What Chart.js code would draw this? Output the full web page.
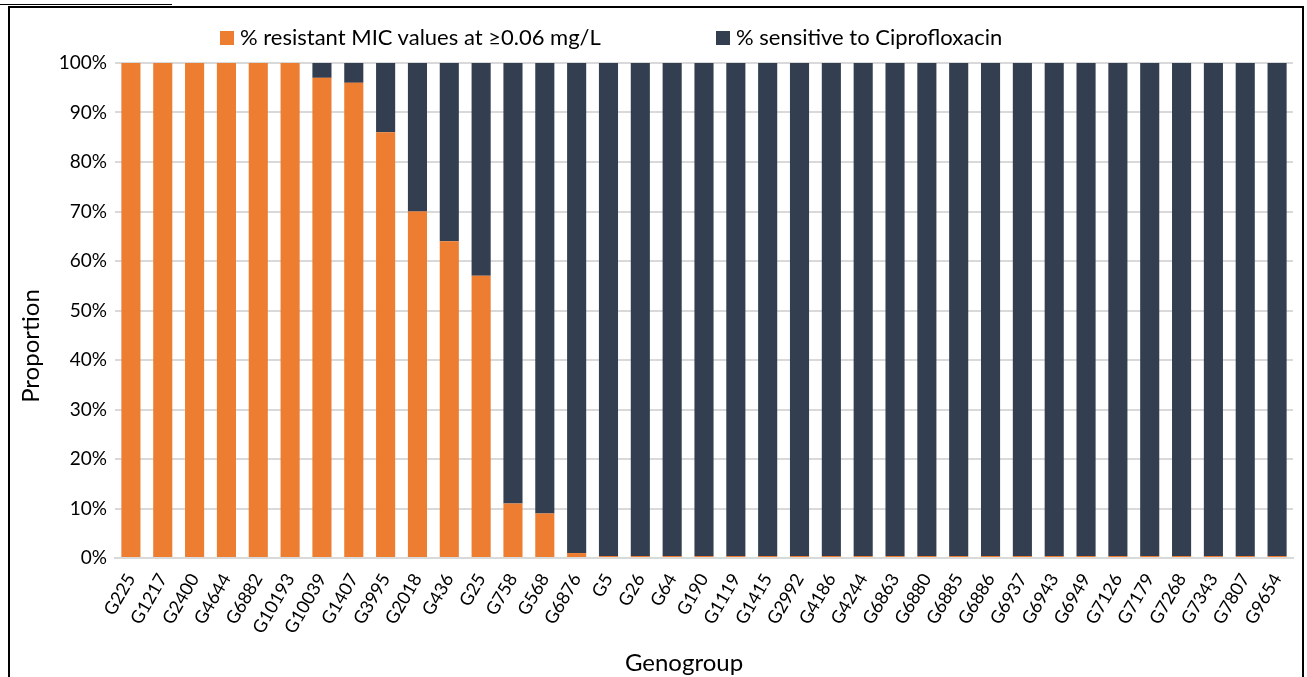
<!DOCTYPE html>
<html>
<head>
<meta charset="utf-8">
<script src="https://cdn.jsdelivr.net/npm/chart.js@4.4.1/dist/chart.umd.min.js"></script>
<style>
  body { margin: 0; background: #fff; }
  #wrap { position: relative; width: 1307px; height: 677px; overflow: hidden; font-family: Lato, sans-serif; color: #000; }
  #frame { position: absolute; left: 8px; top: 6px; width: 1296px; height: 700px; border: 2px solid #000; box-sizing: border-box; pointer-events: none; }
  #underline { position: absolute; left: 0; top: 4px; width: 172px; height: 0; border-top: 1px solid #000; }
  #myChart { position: absolute; left: 0; top: 0; }
  #legend { position: absolute; top: 23px; left: 0; font-size: 22px; line-height: 28px; }
  .item { position: absolute; white-space: nowrap; }
  .box { display: inline-block; width: 14px; height: 14px; margin-right: 6px; vertical-align: 0px; }
  .axis-title { position: absolute; font-size: 24px; line-height: 28px; white-space: nowrap; transform: translate(-50%, -50%); }
  #ytitle { left: 30px; top: 346px; transform: translate(-50%, -50%) rotate(-90deg); }
  #xtitle { left: 684px; top: 662px; }
</style>
</head>
<body>
<div id="wrap">
  <canvas id="myChart" width="1307" height="677"></canvas>
  <div id="underline"></div>
  <div id="frame"></div>
  <div id="legend"></div>
  <div class="axis-title" id="ytitle">Proportion</div>
  <div class="axis-title" id="xtitle">Genogroup</div>
</div>
<script>
const genogroups = ['G225', 'G1217', 'G2400', 'G4644', 'G6882', 'G10193', 'G10039', 'G1407', 'G3995', 'G2018', 'G436', 'G25', 'G758', 'G568', 'G6876', 'G5', 'G26', 'G64', 'G190', 'G1119', 'G1415', 'G2992', 'G4186', 'G4244', 'G6863', 'G6880', 'G6885', 'G6886', 'G6937', 'G6943', 'G6949', 'G7126', 'G7179', 'G7268', 'G7343', 'G7807', 'G9654']
const resistant = [100, 100, 100, 100, 100, 100, 97, 96, 86, 70, 64, 57, 11, 9, 1, 0, 0, 0, 0, 0, 0, 0, 0, 0, 0, 0, 0, 0, 0, 0, 0, 0, 0, 0, 0, 0, 0]
const sensitive = [0, 0, 0, 0, 0, 0, 3, 4, 14, 30, 36, 43, 89, 91, 99, 100, 100, 100, 100, 100, 100, 100, 100, 100, 100, 100, 100, 100, 100, 100, 100, 100, 100, 100, 100, 100, 100]
const seriesNames = ['% resistant MIC values at \u22650.06 mg/L', '% sensitive to Ciprofloxacin']
const seriesColors = ['#ED7D31', '#333F50']
const yTicks = ['0%', '10%', '20%', '30%', '40%', '50%', '60%', '70%', '80%', '90%', '100%']

const fontFamily = 'Lato, sans-serif'

// html legend, placed like the original
const legendX = [220, 716]
const legend = document.querySelector('#legend')
seriesNames.forEach((name, i) => {
  const el = document.createElement('div')
  el.className = 'item'
  el.style.left = legendX[i] + 'px'
  el.innerHTML = `<span class="box" style="background:${seriesColors[i]}"></span>${name}`
  legend.appendChild(el)
})

const ctx = document.querySelector('#myChart').getContext('2d')
const myChart = new Chart(ctx, {
  type: 'bar',
  data: {
    labels: genogroups,
    datasets: [
      { label: seriesNames[0], data: resistant, backgroundColor: seriesColors[0], minBarLength: 2 },
      { label: seriesNames[1], data: sensitive, backgroundColor: seriesColors[1] }
    ]
  },
  options: {
    responsive: false,
    animation: false,
    categoryPercentage: 0.6,
    barPercentage: 1,
    layout: { padding: { top: 63, left: 16, right: 14, bottom: 0 } },
    plugins: {
      legend: { display: false },
      tooltip: { enabled: false }
    },
    scales: {
      x: {
        stacked: true,
        grid: { display: false },
        border: { color: '#d9d9d9', width: 2 },
        afterFit: (scale) => { scale.height = 119 }, // room for the html axis title below
        ticks: { color: '#000', font: { family: fontFamily, size: 18 }, minRotation: 60, maxRotation: 60, padding: 4 }
      },
      y: {
        stacked: true,
        min: 0,
        max: 100,
        grid: { color: '#d9d9d9', lineWidth: 2, drawTicks: false },
        border: { display: false },
        afterFit: (scale) => { scale.width = 99 },
        ticks: {
          stepSize: 10,
          color: '#000',
          font: { family: fontFamily, size: 19 },
          padding: 8,
          callback: (v) => yTicks[Math.round(v / 10)]
        }
      }
    }
  }
})
</script>
</body>
</html>
